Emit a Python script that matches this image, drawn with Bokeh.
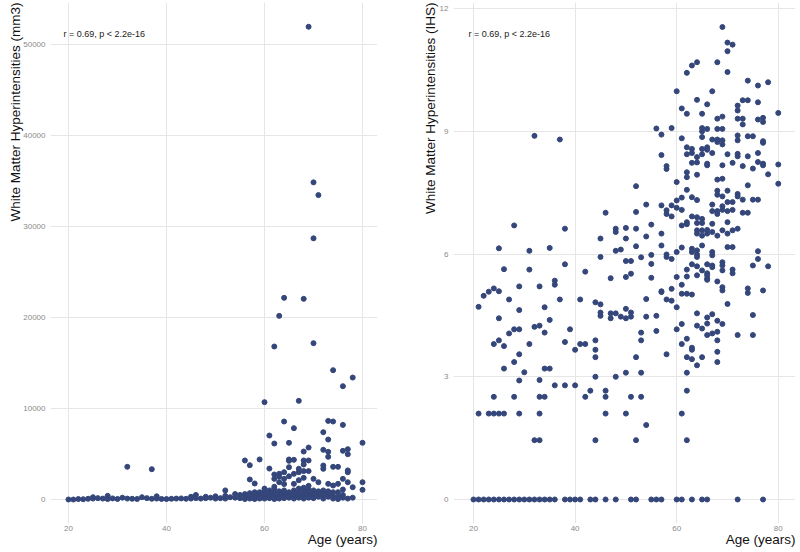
from bokeh.plotting import figure
from bokeh.layouts import row
from bokeh.models import FixedTicker, Label, Range1d, Title
from bokeh.embed import file_html
from bokeh.resources import INLINE

# ---------------- data: left panel (WMH volume, mm3) ----------------
age_mm3 = [20, 21, 22, 23, 24, 25, 25, 26, 27, 28, 28, 29, 30, 31, 32, 32, 33, 34, 35, 36,
           37, 37, 38, 38, 39, 40, 41, 42, 43, 44, 45, 45, 46, 46, 47, 48, 48, 49, 50, 50,
           51, 52, 52, 52, 53, 54, 54, 55, 55,
           56, 56, 56, 56,
           57, 57, 57, 57, 57,
           58, 58, 58, 58, 58,
           59, 59, 59, 59,
           60, 60, 60, 60, 60, 60,
           61, 61, 61, 61, 61, 61,
           62, 62, 62, 62, 62, 62, 62, 62, 62, 62,
           63, 63, 63, 63, 63, 63, 63, 63,
           64, 64, 64, 64, 64, 64, 64, 64, 64,
           65, 65, 65, 65, 65, 65, 65, 65,
           66, 66, 66, 66, 66, 66, 66, 66,
           67, 67, 67, 67, 67, 67, 67, 67,
           68, 68, 68, 68, 68, 68, 68, 68, 68, 68, 68,
           69, 69, 69, 69, 69, 69, 69, 69, 69,
           70, 70, 70, 70, 70, 70, 70, 70,
           71, 71, 71, 71, 71,
           72, 72, 72, 72, 72, 72, 72, 72,
           73, 73, 73, 73, 73, 73, 73, 73,
           74, 74, 74, 74, 74, 74, 74,
           75, 75, 75, 75, 75,
           76, 76, 76, 76, 76, 76, 76,
           77, 77, 77, 77, 77, 77,
           78, 78, 78,
           80, 80, 80]
wmh_mm3 = [0, 0, 50, 30, 80, 250, 100, 150, 100, 400, 50, 120, 60, 200, 100, 3590, 80, 60, 250, 150,
           80, 3330, 350, 100, 60, 50, 80, 100, 120, 80, 300, 100, 500, 150, 100, 300, 150, 200, 350, 100,
           150, 1000, 400, 100, 250, 600, 200, 500, 150,
           4290, 600, 200, 50,
           3770, 2200, 700, 400, 100,
           1760, 800, 500, 200, 50,
           4400, 800, 400, 100,
           10700, 1200, 900, 600, 300, 100,
           7030, 3400, 1000, 700, 400, 150,
           16810, 6150, 2750, 2270, 1400, 1200, 800, 500, 200, 50,
           20180, 2820, 2500, 1900, 900, 600, 300, 100,
           22160, 8570, 3000, 2270, 1700, 1000, 700, 400, 150,
           6230, 4400, 4250, 3550, 2550, 800, 500, 200,
           7840, 4360, 2820, 1720, 1000, 700, 400, 100,
           10840, 3370, 3000, 2120, 1200, 800, 500, 200,
           22050, 5270, 4290, 3850, 3120, 2380, 1300, 1000, 700, 400, 100,
           51950, 5710, 4290, 3120, 1500, 1100, 800, 500, 200,
           34850, 28700, 17180, 2270, 1000, 700, 400, 150,
           33450, 1900, 900, 600, 300,
           7400, 5460, 3730, 3370, 1000, 700, 400, 100,
           8640, 6590, 5240, 4690, 1720, 900, 600, 300,
           14210, 8570, 3590, 1540, 800, 400, 100,
           3590, 1720, 800, 300, 50,
           12450, 8200, 5350, 2270, 1100, 500, 200,
           5530, 4980, 3200, 3000, 1900, 100,
           13400, 1350, 200,
           6230, 1900, 1060]

# ---------------- data: right panel (WMH, IHS) ----------------
age_ihs = [
    32, 37, 28, 38, 25, 31, 35, 26, 31, 38, 42, 45, 46, 48, 48, 50, 50, 52, 52, 52,
    45, 48, 49, 52, 53, 55, 55, 54, 54, 47,
    56, 57, 59, 57, 58, 58,
    57, 58, 58, 59, 59, 60, 60, 61, 61, 60,
    57, 57, 58, 58, 59, 60, 61, 61, 62, 62,
    60, 61, 62, 61,
    62, 63, 64,
    62, 62, 63, 63, 63, 64, 64,
    62, 62, 64, 62, 64, 63,
    64, 65, 66, 67,
    65, 65, 66, 65, 66, 65, 66, 65, 67, 66, 66,
    68, 69, 70, 71, 70, 70,
    68, 69, 67, 68, 68, 69, 69, 68, 69, 70, 69, 71,
    68, 69, 68, 68, 69, 70, 70, 71, 69, 69, 67, 67, 68, 68, 70, 67,
    64, 65, 65, 64, 63, 64, 64, 65, 65, 66, 66, 67, 68, 69, 70, 70, 71, 72, 73, 74,
    63, 63, 64, 64, 64, 65, 67, 67, 70, 71,
    72, 73, 74, 74, 76, 78, 76, 72, 73, 73, 72, 76, 77, 77, 80,
    72, 74, 75, 72, 77, 77, 72, 72, 74, 76, 73, 75, 76, 77, 77, 78, 80, 80,
    74, 72, 72, 73, 75, 76, 76, 76, 71,
    50, 51, 50, 51, 55, 55, 60, 62, 62, 63, 64, 64, 65, 66, 66, 66, 66, 67, 67, 69,
    69, 69, 71, 71, 75, 78,
    21, 22, 23, 24, 25, 25, 27, 29, 29, 33, 34, 36, 36, 37,
    24, 25, 26, 27, 28, 29, 26, 28, 29, 30, 29, 31, 32, 33, 34, 35, 33, 34, 35, 36,
    24, 28, 33, 34,
    21, 23, 24, 25, 26, 29, 33,
    32, 33,
    38, 39, 38, 40, 40, 41, 42, 41, 42, 43, 44, 45, 45, 45, 44, 44, 44, 44, 46, 46, 46, 44,
    47, 47, 48, 49, 50, 50, 51, 51, 48, 50, 50, 51, 52, 52, 53, 53, 53, 53, 54, 54, 54,
    56, 56, 57, 57, 58, 59, 59, 58, 60, 60, 61, 61, 62, 63, 61, 61, 62, 62, 62, 62, 61,
    62, 63, 63, 63, 64, 64, 64, 65, 65, 66, 66, 66, 67, 67, 68, 68, 68, 68, 68, 69,
    69, 69, 70, 68, 66, 72, 74, 74, 75, 75, 77,
    20, 21, 22, 23, 24, 25, 26, 27, 28, 29, 30, 31, 32, 33, 34, 35, 36,
    38, 39, 40, 41, 43, 44, 46, 48, 51, 52, 55, 56, 57, 60, 61, 63, 65, 66, 72, 77]
ihs = [
    8.89, 8.80, 6.70, 6.62, 6.14, 6.08, 6.15, 5.63, 5.62, 5.75, 5.57, 6.38, 7.01, 6.62, 6.54, 6.64, 6.38, 7.03, 7.66, 6.62,
    5.93, 6.08, 6.11, 6.19, 5.92, 5.98, 6.72, 7.21, 6.43, 5.41,
    9.07, 8.92, 9.08, 8.42, 8.15, 8.08,
    7.19, 7.07, 6.98, 6.92, 7.19, 7.13, 7.76, 7.38, 7.08, 7.31,
    6.50, 6.21, 5.99, 5.93, 5.88, 6.05, 6.16, 6.70, 6.73, 6.78,
    9.98, 9.56, 9.43, 8.83,
    10.43, 10.61, 10.69,
    8.61, 8.44, 8.57, 8.47, 8.23, 8.37, 8.24,
    8.00, 7.88, 7.94, 7.57, 7.32, 7.39,
    9.77, 9.43, 9.66, 9.98,
    9.08, 9.00, 9.06, 8.86, 8.61, 8.57, 8.55, 8.44, 8.47, 8.21, 8.17,
    10.69, 11.55, 11.17, 11.12, 10.96, 10.45,
    9.31, 9.36, 8.80, 8.80, 8.74, 8.78, 8.68, 9.06, 9.06, 8.44, 8.17, 8.23,
    7.82, 7.84, 7.55, 7.45, 7.41, 7.55, 7.27, 7.27, 7.17, 7.08, 7.21, 7.05, 7.05, 6.98, 7.05, 6.74,
    6.90, 6.86, 6.76, 6.76, 6.92, 6.58, 6.50, 6.58, 6.45, 6.59, 6.50, 6.54, 6.45, 6.58, 6.78, 6.50, 6.58, 6.62, 7.01, 7.01,
    6.13, 6.05, 6.09, 5.99, 5.93, 6.21, 6.05, 5.97, 6.17, 6.17,
    9.63, 9.76, 9.76, 10.24, 10.12, 10.20, 9.71, 9.31, 9.31, 9.17, 9.51, 9.29, 9.33, 9.23, 9.45,
    8.90, 8.88, 8.88, 8.78, 8.76, 8.72, 8.45, 8.39, 8.39, 8.47, 8.15, 8.09, 8.25, 8.21, 8.17, 7.95, 8.19, 7.72,
    7.68, 7.47, 7.41, 7.33, 7.33, 7.33, 6.07, 5.88, 7.08,
    5.83, 5.83, 5.44, 5.52, 5.76, 5.42, 5.44, 5.62, 5.45, 5.75, 5.70, 5.48, 5.60, 5.75, 5.53, 5.48, 5.40, 5.72, 5.68, 5.80,
    5.72, 5.60, 5.62, 5.53, 5.72, 5.70,
    4.71, 4.98, 5.08, 5.16, 5.09, 4.43, 4.89, 5.21, 4.63, 5.21, 4.70, 5.35, 5.25, 4.89,
    3.80, 3.89, 3.75, 4.06, 4.16, 4.16, 3.20, 3.36, 3.55, 3.11, 2.91, 3.80, 4.22, 4.25, 4.08, 4.39, 2.92, 3.20, 3.20, 2.79,
    2.51, 2.51, 2.51, 2.51,
    2.10, 2.10, 2.10, 2.10, 2.10, 2.10, 2.10,
    1.45, 1.45,
    3.85, 4.16, 2.79, 2.79, 3.66, 3.80, 3.80, 4.89, 2.51, 2.66, 4.82, 4.77, 4.57, 4.49, 3.89, 3.66, 3.48, 3.00, 2.66, 2.51, 2.10, 1.45,
    4.55, 4.43, 4.55, 4.47, 4.66, 4.43, 4.57, 4.47, 3.00, 3.10, 2.10, 2.51, 3.48, 1.45, 4.08, 3.89, 3.10, 2.51, 4.90, 4.47, 1.82,
    4.49, 4.12, 5.09, 5.07, 4.89, 4.86, 5.15, 3.55, 4.70, 4.16, 5.25, 5.03, 5.03, 5.01, 4.29, 3.80, 3.93, 3.48, 3.10, 2.66, 2.10,
    1.45, 3.71, 3.66, 3.43, 4.55, 4.25, 3.28, 4.18, 3.48, 4.45, 4.30, 4.02, 4.53, 4.06, 4.37, 4.10, 3.89, 3.61, 3.36, 4.29,
    5.19, 5.11, 4.78, 5.33, 5.37, 4.02, 5.16, 5.05, 4.51, 4.02, 5.11,
    0, 0, 0, 0, 0, 0, 0, 0, 0, 0, 0, 0, 0, 0, 0, 0, 0,
    0, 0, 0, 0, 0, 0, 0, 0, 0, 0, 0, 0, 0, 0, 0, 0, 0, 0, 0, 0]

x_ticks = [20, 40, 60, 80]
y_ticks_mm3 = [0, 10000, 20000, 30000, 40000, 50000]
y_ticks_ihs = [0, 3, 6, 9, 12]
corr_text = "r = 0.69, p < 2.2e-16"
x_title = "Age (years)"
y_title_mm3 = "White Matter Hyperintensities (mm3)"
y_title_ihs = "White Matter Hyperintensities (IHS)"

FONT = "Liberation Sans"
PT_COLOR = "#34467a"
GRID = "#e6e6e6"


def style(p, yticks):
    p.xaxis.ticker = FixedTicker(ticks=x_ticks)
    p.yaxis.ticker = FixedTicker(ticks=yticks)
    for ax in (p.xaxis, p.yaxis):
        ax.axis_line_color = None
        ax.major_tick_line_color = None
        ax.minor_tick_line_color = None
        ax.major_tick_out = 0
        ax.major_tick_in = 0
        ax.major_label_text_font = FONT
        ax.major_label_text_font_size = "8px"
        ax.major_label_text_color = "#8a8a8a"
    p.xaxis.major_label_standoff = 2
    p.yaxis.major_label_standoff = 5
    p.xgrid.grid_line_color = GRID
    p.ygrid.grid_line_color = GRID
    p.xgrid.ticker = FixedTicker(ticks=x_ticks)
    p.ygrid.ticker = FixedTicker(ticks=yticks)
    p.outline_line_color = None
    p.background_fill_color = "white"
    p.border_fill_color = "white"


def make_title(text, standoff):
    t = Title(text=text, align="right", text_font=FONT, text_font_size="13.5px",
              text_font_style="normal", text_color="#111111", standoff=0, offset=0)
    try:
        t.standoff = standoff
    except Exception:
        pass
    return t


def titles(p, ytext, ystandoff):
    p.add_layout(make_title(ytext, ystandoff), "left")
    p.add_layout(make_title(x_title, -7), "below")


# frames: x 50..377 (left) and 453..795 (right), y 2..523
p1 = figure(width=400, height=552, x_range=Range1d(16.33, 83.06), y_range=Range1d(-2637, 54615),
            output_backend="svg", toolbar_location=None,
            min_border_left=50, min_border_right=23, min_border_top=2, min_border_bottom=29)
style(p1, y_ticks_mm3)
titles(p1, y_title_mm3, -4)
p1.scatter(x=age_mm3, y=wmh_mm3, size=5, color=PT_COLOR, line_color=PT_COLOR)
p1.add_layout(Label(x=18.98, y=51200, text=corr_text, text_font=FONT, text_font_size="9px",
                    text_baseline="middle", text_color="#222222"))

p2 = figure(width=400, height=552, x_range=Range1d(16.06, 83.39), y_range=Range1d(-0.587, 12.15),
            output_backend="svg", toolbar_location=None,
            min_border_left=53, min_border_right=5, min_border_top=2, min_border_bottom=29)
style(p2, y_ticks_ihs)
titles(p2, y_title_ihs, -2)
p2.scatter(x=age_ihs, y=ihs, size=5, color=PT_COLOR, line_color=PT_COLOR)
p2.add_layout(Label(x=19.0, y=11.39, text=corr_text, text_font=FONT, text_font_size="9px",
                    text_baseline="middle", text_color="#222222"))

layout = row(p1, p2)
open("out.html", "w").write(file_html(layout, INLINE))
